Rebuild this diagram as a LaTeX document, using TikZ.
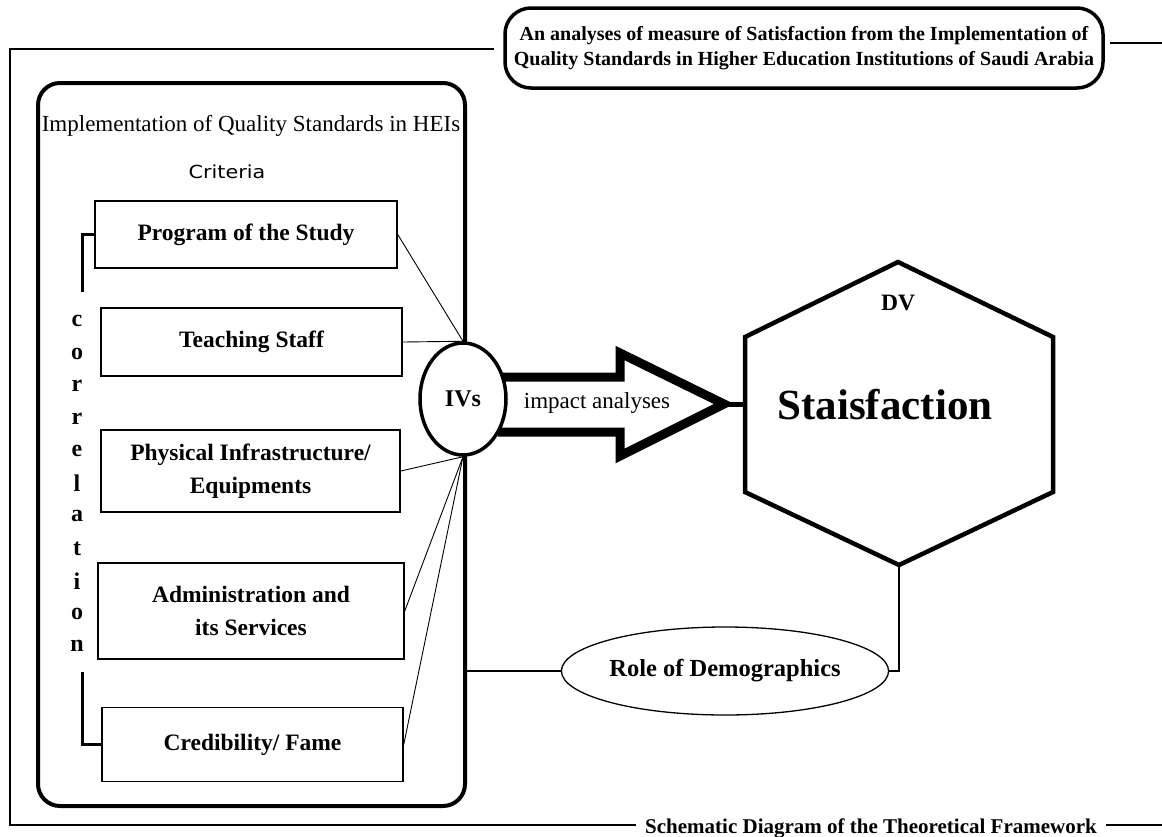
\documentclass[tikz,border=0pt]{standalone}
\usepackage{fontspec}
\setmainfont{Liberation Serif}
\newfontfamily\critfont[FakeStretch=1.15]{DejaVu Sans}
\usetikzlibrary{shapes.geometric}
\tikzset{frameworkpic/.style={x=1pt,y=-1pt,line join=miter},
  framethin/.style={line width=1.2pt},
  critbox/.style={draw,line width=1.5pt,inner sep=0pt,align=center,font=\fontsize{23.5}{33.5}\selectfont\bfseries},
  ivlink/.style={line width=0.9pt},
  corrletter/.style={inner sep=0pt,font=\fontsize{24}{24}\selectfont\bfseries},
  corrbar/.style={line width=3pt}}

\begin{document}
\begin{tikzpicture}[frameworkpic]
\useasboundingbox (0,0) rectangle (1162,836);
% title and outer frame
\node[draw,line width=3.5pt,rounded corners=26pt,minimum width=598,minimum height=80,align=center,font=\fontsize{20}{25}\selectfont\bfseries] (title) at (804,48)
  {An analyses of measure of Satisfaction from the Implementation of\\Quality Standards in Higher Education Institutions of Saudi Arabia};
\node[anchor=base,inner sep=9pt,font=\fontsize{21}{21}\selectfont\bfseries] (caption) at (871,833) {Schematic Diagram of the Theoretical Framework};
\coordinate (tl) at (10,49);
\coordinate (bl) at (10,825);
\draw[framethin] ([xshift=-9pt]title.west |- tl) -- (tl) -- (bl) -- (bl -| caption.west);
\draw[framethin] (caption.east |- bl) -- (1162,825);
\draw[framethin] ([xshift=5pt,yshift=5pt]title.east) -- ++(60,0);
% criteria block
\node[draw,line width=4pt,rounded corners=22pt,minimum width=427,minimum height=723] (impl) at (251.5,444.5) {};
\node[font=\fontsize{23}{23}\selectfont] (head) at (251,126) {Implementation of Quality Standards in HEIs};
\node[font=\critfont\fontsize{18}{18}\selectfont] (crit) at (227,172) {Criteria};
\node[critbox,minimum width=302,minimum height=67] (prog) at (246,234.5) {Program of the Study};
\node[critbox,minimum width=301,minimum height=68] (teach) at (251.5,342) {Teaching Staff};
\node[critbox,minimum width=299,minimum height=82] (phys) at (250.5,471) {Physical Infrastructure/\\Equipments};
\node[critbox,minimum width=306,minimum height=96] (admin) at (251,611) {Administration and\\its Services};
\node[critbox,minimum width=301,minimum height=74] (cred) at (252.5,744.5) {Credibility/ Fame};
\foreach \ch [count=\i] in {c,o,r,r,e,l,a,t,i,o,n}
  \node[corrletter] (corr\i) at (77,{288.5+32.5*\i}) {\ch};
\coordinate (corrtop) at (82,292);
\coordinate (corrbot) at (82,672);
\draw[corrbar] (corrtop) |- (prog.west);
\draw[corrbar] (corrbot) |- (cred.west);
% impact arrow
\coordinate (tip) at (724,404);
\draw[line width=9pt] (498,377) -- (620,377) -- (620,353) -- (tip) -- (620,456) -- (620,432) -- (498,432);
\node[font=\fontsize{23}{23}\selectfont] (impact) at (597,403) {impact analyses};
\node[draw,ellipse,fill=white,line width=3.5pt,inner sep=0pt,minimum width=86,minimum height=112,font=\fontsize{24}{24}\selectfont\bfseries] (ivs) at (463,399) {IVs};
\draw[ivlink] (prog.east) -- (ivs.north);
\draw[ivlink] (teach.east) -- (ivs.north);
\draw[ivlink] (phys.east) -- (ivs.south);
\draw[ivlink] (admin.east) -- (ivs.south);
\draw[ivlink] (cred.east) -- (ivs.south);
% dependent variable
\coordinate (hextop) at (898,262);
\coordinate (hexbot) at (899,565);
\coordinate (hexw) at (745,404);
\draw[line width=4.5pt] (hextop) -- (1053,337) -- (1053,492) -- (hexbot) -- (745,492) -- (745,337) -- cycle;
\draw[line width=5pt] (tip) -- (hexw);
\node[font=\fontsize{23.5}{23.5}\selectfont\bfseries] (dv) at (898,303) {DV};
\node[font=\fontsize{43}{43}\selectfont\bfseries] (sat) at (885,405) {Staisfaction};
% demographics
\node[draw,ellipse,line width=1.3pt,inner sep=0pt,minimum width=318,minimum height=88,font=\fontsize{24.5}{24.5}\selectfont\bfseries] (role) at (725,671) {Role of Demographics};
\draw[framethin] (role.west) -- (role.west -| impl.east);
\draw[framethin] (hexbot) |- (role.east);
\end{tikzpicture}
\end{document}
